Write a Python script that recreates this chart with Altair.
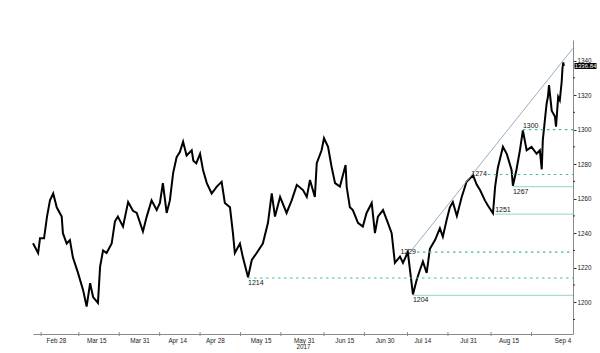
import altair as alt
import pandas as pd

# ---- price path: days after 2017-02-28, price ----
day = [-8.5, -6.6, -5.9, -4.4, -3.3, -2.2, -1.0, 0.3, 2.15, 2.6, 4.0, 5.2, 6.3, 8.2, 10.1, 11.4,
       12.7, 13.8, 15.6, 16.4, 17.5, 18.8, 20.7, 21.9, 23.0, 24.9, 26.8, 28.6, 30.0, 32.3, 33.7,
       35.5, 37.4, 38.6, 39.7, 41.1, 42.3, 43.5, 44.8, 46.0, 47.2, 48.5, 50.4, 51.0, 52.1, 53.5,
       54.6, 56.0, 57.8, 59.7, 61.5, 62.7, 64.6, 65.7, 66.4, 68.3, 69.4, 71.3, 72.7, 74.5, 76.8,
       78.7, 80.1, 81.3, 83.2, 85.6, 87.5, 89.4, 91.7, 93.1, 94.3, 96.1, 96.8, 98.6, 99.5, 101.0,
       102.3, 103.6, 105.4, 107.5, 107.9, 109.1, 110.2, 112.1, 113.9, 115.3, 117.2, 118.4, 119.5,
       121.4, 123.2, 124.6, 125.8, 127.7, 128.8, 130.6, 132.0, 132.5, 133.9, 135.1, 136.2, 137.6,
       138.8, 140.7, 142.5, 143.6, 145.0, 146.2, 147.3, 148.8, 150.6, 152.4, 154.8, 156.2, 157.4,
       159.2, 160.3, 162.2, 163.0, 164.0, 165.9, 167.3, 169.1, 169.6, 170.9, 172.2, 173.3, 174.7,
       176.5, 178.4, 179.6, 180.3, 180.7, 182.1, 182.6, 183.0, 184.0, 185.2, 185.6, 186.4, 187.0,
       187.7, 188.0, 188.3, 188.5]
price = [1234.2, 1228.5, 1237, 1237, 1249.6, 1259, 1263, 1255, 1249.6, 1240, 1234, 1236, 1226, 1217,
         1207, 1197.5, 1211, 1203, 1199.6, 1220.6, 1230, 1228.5, 1234, 1246.7, 1249.6, 1243.8, 1258,
         1253, 1251.7, 1241, 1249.6, 1259, 1253.4, 1257.5, 1269, 1251.7, 1259, 1274.8, 1284, 1287,
         1293, 1285, 1288, 1282, 1280.5, 1286, 1276.6, 1269, 1263, 1267, 1269.8, 1257.5, 1255, 1240,
         1228.5, 1234, 1226, 1214.5, 1224.5, 1228.5, 1234, 1246, 1263, 1249.6, 1261, 1251.7, 1259,
         1268, 1265, 1261, 1270.8, 1261, 1280.6, 1288, 1295, 1290, 1278.5, 1269, 1267, 1279.5, 1267,
         1255, 1253.4, 1246, 1243.8, 1251.7, 1257.5, 1240, 1249.6, 1253.4, 1246, 1240, 1222.8,
         1226.4, 1222.8, 1229, 1211, 1204.5, 1213, 1218.7, 1223.5, 1217, 1231, 1236, 1242.8, 1238,
         1247.6, 1255, 1258, 1250, 1261, 1269.8, 1273.5, 1268, 1265, 1259, 1256, 1251.5, 1267,
         1277.8, 1290, 1286, 1276.6, 1267.5, 1276.6, 1288, 1299.5, 1288, 1290, 1286, 1288, 1277,
         1294, 1315, 1319, 1325.8, 1311, 1307.5, 1301.7, 1319, 1317, 1327.7, 1335.6, 1339, 1336.84]

# ---- support / resistance levels ----
level_value = [1300, 1274, 1267, 1251, 1229, 1214, 1204]
level_start = [173.3, 160.3, 169.6, 163.0, 134.0, 71.3, 132.5]
level_kind = ["dashed", "dashed", "solid", "solid", "dashed", "dashed", "solid"]
level_label = ["above", "left", "below", "above", "left", "below", "below"]

# ---- trend line ----
trend_day = [132.1, 191.9]
trend_price = [1230.3, 1347.1]

# ---- axes ----
x_domain_days = [-8.5, 191.9]
y_domain = [1181.6, 1351.9]
label_dates = ["2017-02-28", "2017-03-15", "2017-03-31", "2017-04-14", "2017-04-28",
               "2017-05-15", "2017-05-31", "2017-06-15", "2017-06-30", "2017-07-14",
               "2017-07-31", "2017-08-15", "2017-09-04"]
tick_days = [-5.5, 8.5, 23.5, 38.5, 53.5, 68.5, 83.5, 99.5, 114.5, 130.5, 145.5, 161.5, 176.5]
y_labels = list(range(1200, 1341, 20))
y_minor = list(range(1190, 1350, 20))
last_value = 1336.84

BASE = pd.Timestamp("2017-02-28")


def ms(d):
    return int((BASE + pd.to_timedelta(d, unit="D")).value // 10**6)


def ms_date(s):
    return int(pd.Timestamp(s).value // 10**6)


x_dom = [ms(d) for d in x_domain_days]

FONT = "Liberation Sans"
AX = "#8a8a8a"

xscale = alt.Scale(type="utc", domain=x_dom, nice=False)
yscale = alt.Scale(domain=y_domain, nice=False, zero=False)

price_df = pd.DataFrame({"t": [ms(d) for d in day], "price": price})
lev_df = pd.DataFrame({
    "t": [ms(d) for d in level_start],
    "t2": [x_dom[1]] * len(level_value),
    "level": level_value,
    "kind": level_kind,
    "pos": level_label,
    "txt": [str(v) for v in level_value],
})
trend_df = pd.DataFrame({"t": [ms(d) for d in trend_day], "price": trend_price})
last_df = pd.DataFrame({"price": [last_value], "txt": [f"{last_value:.2f}"]})
xtick_df = pd.DataFrame({"t": [ms(d) for d in tick_days]})
ytick_df = pd.DataFrame({"v": y_minor})

x_axis = alt.Axis(
    values=[ms_date(s) for s in label_dates],
    labelExpr="utcFormat(datum.value, '%b %-d')",
    ticks=False, grid=False, title="2017",
)
y_axis = alt.Axis(orient="right", values=y_labels, format="d", grid=False, title=None)

X = lambda f: alt.X(f, scale=xscale, axis=x_axis)
Y = lambda f: alt.Y(f, scale=yscale, axis=y_axis)

line = alt.Chart(price_df).mark_line(color="black", strokeWidth=2.0, strokeJoin="miter").encode(
    x=X("t:T"), y=Y("price:Q"),
)

# minor tick marks along the axes
xticks = alt.Chart(xtick_df).mark_rule(color=AX, strokeWidth=1).encode(
    x=X("t:T"), y=alt.value(292), y2=alt.value(296)
)
yticks = alt.Chart(ytick_df).mark_rule(color="#333", strokeWidth=1).encode(
    y=Y("v:Q"), x=alt.value(540), x2=alt.value(542)
)

dashed = alt.Chart(lev_df).transform_filter("datum.kind == 'dashed'").mark_rule(
    color="#45bf86", strokeWidth=1.1, strokeDash=[2.5, 3.5]
).encode(x=X("t:T"), x2="t2:T", y=Y("level:Q"))

solid = alt.Chart(lev_df).transform_filter("datum.kind == 'solid'").mark_rule(
    color="#a3e1c3", strokeWidth=1.3
).encode(x=X("t:T"), x2="t2:T", y=Y("level:Q"))

trend = alt.Chart(trend_df).mark_line(color="#8ea4bb", strokeWidth=0.9).encode(
    x=X("t:T"), y=Y("price:Q")
)


def lab(pos, **kw):
    return alt.Chart(lev_df).transform_filter(f"datum.pos == '{pos}'").mark_text(
        font=FONT, fontSize=7, color="#111", **kw
    ).encode(x=X("t:T"), y=Y("level:Q"), text="txt:N")


lab_above = lab("above", align="left", baseline="bottom", dy=-1)
lab_below = lab("below", align="left", baseline="top", dy=1)
lab_left = lab("left", align="right", baseline="middle", dx=-1)

box = alt.Chart(last_df).mark_point(
    shape="M-1,-0.27H1V0.27H-1Z", filled=True, color="black", opacity=1, size=484
).encode(x=alt.value(552.5), y=Y("price:Q"))
box_txt = alt.Chart(last_df).mark_text(
    font=FONT, fontSize=6, color="white", align="center", baseline="middle"
).encode(x=alt.value(552.5), y=Y("price:Q"), text="txt:N")

chart = alt.layer(
    line, solid, dashed, trend, xticks, yticks, lab_above, lab_below, lab_left, box, box_txt
).properties(
    width=540, height=294,
    padding={"left": 33, "top": 40, "right": 27, "bottom": 19},
    autosize=alt.AutoSizeParams(type="none"),
    background="white",
).configure_view(stroke=None).configure_axis(
    domainColor=AX, tickColor="#333", tickSize=3,
    labelFont=FONT, labelFontSize=6.3, labelColor="#222",
    titleFont=FONT, titleFontSize=6.3, titleFontWeight="normal", titleColor="#222",
).configure_axisX(labelPadding=3, titlePadding=0).configure_axisY(labelPadding=1)

chart.save("out.html", embed_options={"renderer": "svg", "actions": False})
